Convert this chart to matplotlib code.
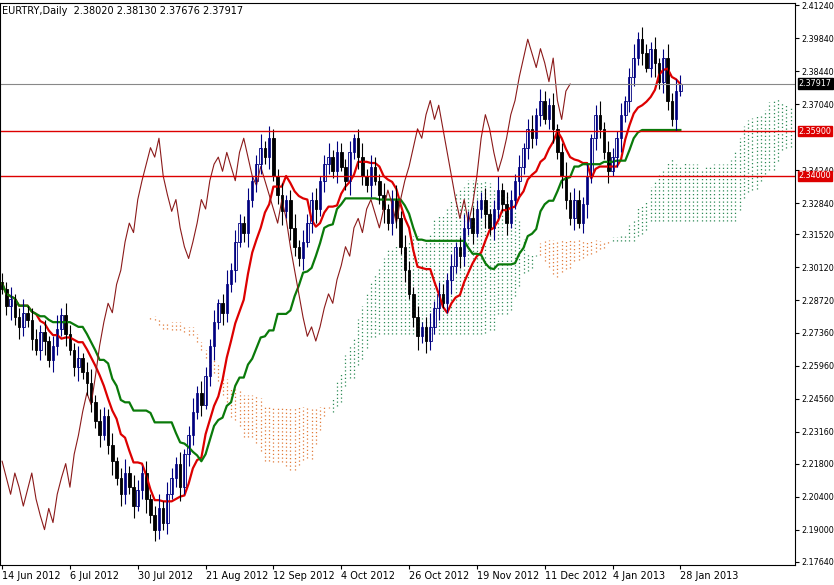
import numpy as np, pandas as pd, matplotlib
matplotlib.use("Agg")
import matplotlib.pyplot as plt

closes = [2.292,2.285,2.288,2.280,2.276,2.282,2.279,2.271,2.266,2.274,2.270,
2.262,2.268,2.275,2.281,2.273,2.266,2.259,2.263,2.257,2.252,
2.244,2.236,2.230,2.238,2.226,2.219,2.212,2.205,2.214,2.208,
2.200,2.207,2.214,2.203,2.196,2.190,2.199,2.193,2.205,2.212,
2.218,2.208,2.222,2.230,2.240,2.248,2.243,2.255,2.268,2.278,
2.286,2.282,2.294,2.300,2.312,2.320,2.316,2.330,2.338,2.345,
2.352,2.348,2.356,2.340,2.332,2.325,2.330,2.318,2.310,2.305,
2.312,2.320,2.330,2.326,2.338,2.345,2.348,2.342,2.350,2.344,
2.338,2.350,2.356,2.348,2.340,2.336,2.344,2.338,2.332,2.326,
2.320,2.330,2.322,2.310,2.300,2.290,2.280,2.272,2.276,2.270,
2.276,2.284,2.290,2.286,2.296,2.302,2.310,2.306,2.318,2.322,
2.316,2.326,2.330,2.324,2.318,2.326,2.334,2.328,2.320,2.330,
2.338,2.344,2.352,2.360,2.356,2.366,2.372,2.364,2.370,2.360,
2.350,2.340,2.330,2.322,2.330,2.320,2.328,2.340,2.356,2.366,
2.360,2.350,2.342,2.348,2.356,2.366,2.372,2.382,2.390,2.398,
2.392,2.386,2.394,2.388,2.380,2.390,2.372,2.364,2.376,2.379]
wick = [0.004,0.003,0.005,0.002,0.004,0.006,0.003,0.005]
levels = [2.3590, 2.3400]
last = 2.37917
yticks = [2.41240,2.39840,2.38440,2.37040,2.34240,2.32840,2.31520,2.30120,2.28720,2.27360,2.25960,2.24560,2.23160,2.21800,2.20400,2.19000,2.17640]
holidays = ['2012-12-25', '2013-01-01']

c = pd.Series(closes); n = len(c)
o = c.shift(1).fillna(c.iloc[0]+0.003)
hi = np.maximum(o,c) + np.array([wick[i%8] for i in range(n)])
lo = np.minimum(o,c) - np.array([wick[(i+3)%8] for i in range(n)])
hs, ls = pd.Series(hi), pd.Series(lo)
mid = lambda p: (hs.rolling(p,min_periods=1).max()+ls.rolling(p,min_periods=1).min())/2
tenkan, kijun = mid(9), mid(26)
sa = (tenkan+kijun)/2; sb = mid(52)
x = np.arange(n)

fig = plt.figure(figsize=(8.34,5.85), dpi=100)
ax = fig.add_axes([0.0,0.035,0.953,0.96])
ax.set_xlim(-0.5, 187); ax.set_ylim(2.1752, 2.4134)
for i in range(n):
    xi = i+26
    a, b = sa[i], sb[i]
    col = '#2e8b57' if a >= b else '#e07b39'
    ax.vlines(xi, min(a,b), max(a,b), colors=col, linestyles=(0,(1,2)), lw=0.9)
ax.plot(x, tenkan, color='#dd0000', lw=1.6)
ax.plot(x, kijun, color='#0a7a0a', lw=1.6)
ax.plot(x[26:]-26, c[26:], color='#8b1a1a', lw=0.8)
for i in range(n):
    up = c[i] >= o[i]
    col = '#000080' if up else 'black'
    ax.vlines(i, lo[i], hi[i], color=col, lw=0.8)
    ax.bar(i, abs(c[i]-o[i]) or 0.0004, bottom=min(c[i],o[i]), width=0.6,
           color='white' if up else 'black', edgecolor=col, lw=0.6)
for L in levels:
    ax.axhline(L, color='#dd0000', lw=1)
ax.axhline(last, color='#888888', lw=0.8)
ax.yaxis.tick_right()
ax.set_yticks(yticks); ax.set_yticklabels([f"{v:.5f}" for v in yticks], fontsize=5.8)
ax.tick_params(axis='y', pad=1.5, length=3)
for v, fc in [(2.3590,'#dd0000'),(2.3400,'#dd0000'),(last,'black')]:
    ax.text(1.005, v, f"{v:.5f}", transform=ax.get_yaxis_transform(), fontsize=5.8, color='white',
            va='center', ha='left', bbox=dict(fc=fc, ec=fc, pad=0.6))
dates = pd.bdate_range('2012-06-14', periods=200)
dates = dates[~dates.isin(pd.to_datetime(holidays))]
pos = list(range(0, 165, 16))
ax.set_xticks(pos)
ax.set_xticklabels([dates[p].strftime('%-d %b %Y') for p in pos], fontsize=7, ha='left')
ax.tick_params(axis='x', length=3, pad=2)
ax.text(0.003, 0.995, "EURTRY,Daily  2.38020 2.38130 2.37676 2.37917", transform=ax.transAxes,
        fontsize=7, va='top')
fig.savefig("out.png", dpi=100, facecolor='white')
